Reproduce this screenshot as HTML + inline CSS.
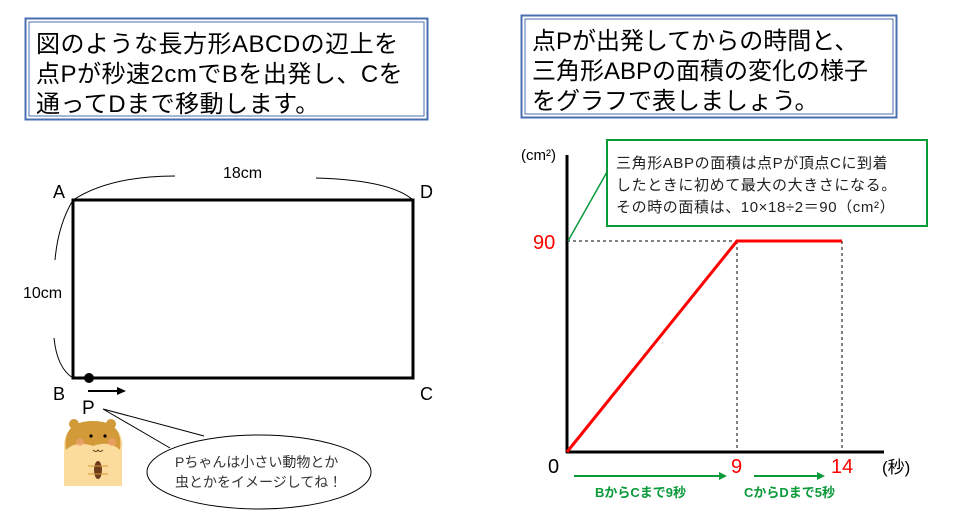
<!DOCTYPE html>
<html><head><meta charset="utf-8"><style>
body{margin:0;width:980px;height:518px;background:#fff;overflow:hidden}
svg{display:block}
text{font-family:"Liberation Sans","Noto Sans CJK JP",sans-serif}
</style></head><body>
<svg width="980" height="518" viewBox="0 0 980 518">
<rect x="25.5" y="18.5" width="402" height="101" fill="#fff" stroke="#4a6fb0" stroke-width="2"/>
<rect x="29" y="22" width="395" height="94" fill="none" stroke="#4a6fb0" stroke-width="1"/>
<g font-size="24" fill="#000" letter-spacing="0.5">
<text x="36" y="52">図のような長方形ABCDの辺上を</text>
<text x="36" y="82">点Pが秒速2cmでBを出発し、Cを</text>
<text x="36" y="112">通ってDまで移動します。</text>
</g>
<rect x="521.5" y="15.5" width="375" height="102" fill="#fff" stroke="#4a6fb0" stroke-width="2"/>
<rect x="525" y="19" width="368" height="95" fill="none" stroke="#4a6fb0" stroke-width="1"/>
<g font-size="24" fill="#000">
<text x="532" y="49">点Pが出発してからの時間と、</text>
<text x="532" y="79">三角形ABPの面積の変化の様子</text>
<text x="532" y="109">をグラフで表しましょう。</text>
</g>
<rect x="73" y="200" width="340" height="178" fill="none" stroke="#000" stroke-width="3"/>
<path d="M73 200 Q110 176 175 176" fill="none" stroke="#000" stroke-width="1"/>
<path d="M316 178 Q390 180 413 200" fill="none" stroke="#000" stroke-width="1"/>
<path d="M73 200 Q58 225 55 260" fill="none" stroke="#000" stroke-width="1"/>
<path d="M54 338 Q57 368 73 378" fill="none" stroke="#000" stroke-width="1"/>
<g font-size="18" fill="#000">
<text x="53" y="198">A</text><text x="420" y="198">D</text>
<text x="53" y="400">B</text><text x="420" y="400">C</text>
<text x="223" y="178" font-size="16">18cm</text>
<text x="23" y="298" font-size="16">10cm</text>
<text x="82" y="414" font-size="19">P</text>
</g>
<circle cx="89" cy="378" r="5" fill="#000"/>
<line x1="88" y1="391" x2="118" y2="391" stroke="#000" stroke-width="2"/>
<polygon points="126,391 117,387 117,395" fill="#000"/>
<g>
<path d="M64 486 L64 450 Q62 423 93 421 Q125 423 122 450 L122 486 Z" fill="#fbdc9c"/>
<path d="M66 450 Q62 421 93 421 Q124 421 120 450 Q110 440 93 446 Q76 440 66 450Z" fill="#d39a3a"/>
<circle cx="74" cy="424" r="5" fill="#d39a3a"/><circle cx="111" cy="424" r="5" fill="#d39a3a"/>
<circle cx="80" cy="442" r="4" fill="#f0a070" opacity="0.7"/><circle cx="112" cy="442" r="4" fill="#f0a070" opacity="0.7"/>
<circle cx="91" cy="436" r="1.6" fill="#000"/><circle cx="105" cy="436" r="1.6" fill="#000"/>
<path d="M93 450 q3 3 5 0 q2 3 5 0" fill="none" stroke="#6b3b1a" stroke-width="1"/>
<ellipse cx="98" cy="470" rx="4" ry="9" fill="#6b3b1a"/>
<path d="M88 466 L108 466 M88 474 L108 474" stroke="#d39a3a" stroke-width="1"/>
</g>
<ellipse cx="259" cy="472" rx="112" ry="37" fill="#fff" stroke="#000" stroke-width="1"/>
<path d="M170 448 L103 409 L204 436" fill="#fff" stroke="#000" stroke-width="1"/>
<g font-size="14" fill="#333">
<text x="175" y="467">Pちゃんは小さい動物とか</text>
<text x="175" y="487">虫とかをイメージしてね！</text>
</g>
<line x1="567" y1="155" x2="567" y2="453" stroke="#000" stroke-width="3"/>
<line x1="566" y1="452" x2="884" y2="452" stroke="#000" stroke-width="3"/>
<line x1="567" y1="241" x2="737" y2="241" stroke="#000" stroke-width="1" stroke-dasharray="3,3"/>
<line x1="737" y1="241" x2="737" y2="452" stroke="#000" stroke-width="1" stroke-dasharray="3,3"/>
<line x1="842" y1="241" x2="842" y2="452" stroke="#000" stroke-width="1" stroke-dasharray="3,3"/>
<polyline points="567,452 737,241 842,241" fill="none" stroke="#f00" stroke-width="3"/>
<text x="521" y="160" font-size="15" fill="#000">(cm²)</text>
<text x="533" y="249" font-size="20" fill="#f00">90</text>
<text x="548" y="473" font-size="20" fill="#000">0</text>
<text x="731" y="473" font-size="20" fill="#f00">9</text>
<text x="831" y="473" font-size="20" fill="#f00">14</text>
<text x="882" y="473" font-size="17" fill="#000">(秒)</text>
<line x1="568" y1="241" x2="607" y2="172" stroke="#0a9a3a" stroke-width="1.5"/>
<rect x="607" y="140" width="320" height="86" fill="#fff" stroke="#0a9a3a" stroke-width="2"/>
<g font-size="15" fill="#222" letter-spacing="0.6">
<text x="616" y="168">三角形ABPの面積は点Pが頂点Cに到着</text>
<text x="616" y="190">したときに初めて最大の大きさになる。</text>
<text x="616" y="212">その時の面積は、10×18÷2＝90（cm²）</text>
</g>
<line x1="574" y1="476" x2="724" y2="476" stroke="#0a9a3a" stroke-width="2"/>
<polygon points="727,476 719,472 719,480" fill="#0a9a3a"/>
<line x1="754" y1="476" x2="822" y2="476" stroke="#0a9a3a" stroke-width="2"/>
<polygon points="825,476 817,472 817,480" fill="#0a9a3a"/>
<g font-size="13" font-weight="bold" fill="#0a9a3a">
<text x="595" y="497">BからCまで9秒</text>
<text x="744" y="497">CからDまで5秒</text>
</g>
</svg>
</body></html>
